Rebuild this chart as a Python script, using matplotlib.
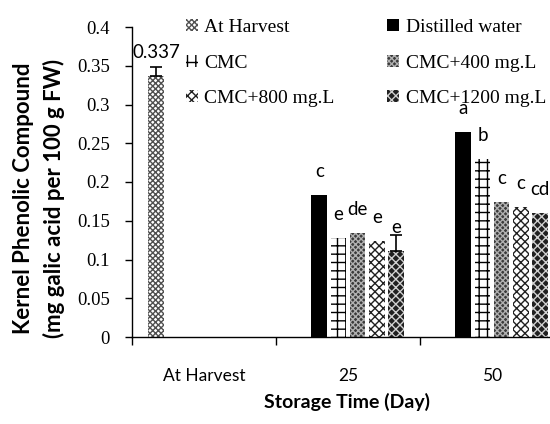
import matplotlib
matplotlib.use("Agg")
import matplotlib.pyplot as plt
import numpy as np

categories = ["At Harvest", "25", "50"]
series = ["At Harvest", "Distilled water", "CMC", "CMC+400 mg.L", "CMC+800 mg.L", "CMC+1200 mg.L"]
v_harvest = [0.337, None, None]
v_water = [None, 0.183, 0.265]
v_cmc = [None, 0.128, 0.230]
v_400 = [None, 0.134, 0.174]
v_800 = [None, 0.124, 0.168]
v_1200 = [None, 0.111, 0.160]
err_harvest = [0.011, 0, 0]
err_1200 = [0, 0.020, 0]
lab_harvest = ["0.337", "", ""]
lab_water = ["", "c", "a"]
lab_cmc = ["", "e", "b"]
lab_400 = ["", "de", "c"]
lab_800 = ["", "e", "c"]
lab_1200 = ["", "e", "cd"]
yticks = [0, 0.05, 0.1, 0.15, 0.2, 0.25, 0.3, 0.35, 0.4]

values = [v_harvest, v_water, v_cmc, v_400, v_800, v_1200]
errs = [err_harvest, None, None, None, None, err_1200]
labels = [lab_harvest, lab_water, lab_cmc, lab_400, lab_800, lab_1200]
# (face, hatch colour, hatch)
styles = [
    ("white", "#505050", "xxxxxx"),
    ("black", "black", None),
    ("white", "black", "++"),
    ("#3a3a3a", "#b0b0b0", "xxxxxx"),
    ("white", "#202020", "xxxx"),
    ("#202020", "#d0d0d0", "xxxx"),
]

W, H = 550, 424
fig = plt.figure(figsize=(W / 100, H / 100), dpi=100)
ax = fig.add_axes([132 / W, (H - 337) / H, 432 / W, 310 / H])

serif = "Liberation Serif"
sans = "Lato"

slot = 0.8 / 6
bw = 0.108
handles = {}
for i, (vals, er, labs, st) in enumerate(zip(values, errs, labels, styles)):
    face, hc, hatch = st
    for j, v in enumerate(vals):
        if v is None:
            continue
        x = j + 0.5 + (i - 2.5) * slot
        b = ax.bar(x, v, bw, facecolor=face, edgecolor=hc, hatch=hatch, linewidth=0)
        handles[i] = b
        if er is not None and er[j] > 0:
            ax.errorbar(x, v, yerr=[[0], [er[j]]], fmt="none", ecolor="black",
                        elinewidth=1.2, capsize=4, capthick=1.2)
        if labs[j]:
            ax.annotate(labs[j], (x, v), xytext=(0, 13), textcoords="offset points",
                        ha="center", va="baseline", fontsize=13.5, family=sans)

ax.set_xlim(0, 3)
ax.set_ylim(0, 0.4)
ax.set_yticks(yticks)
ax.set_yticklabels([f"{t:g}" for t in yticks], family=serif, fontsize=13.5)
ax.tick_params(axis="y", direction="out", length=5, width=1, pad=11)
ax.set_xticks([0, 1, 2, 3])
ax.set_xticklabels([])
ax.tick_params(axis="x", which="major", direction="out", length=6, width=1)
ax.set_xticks([0.5, 1.5, 2.5], minor=True)
ax.set_xticklabels(categories, minor=True, family=sans, fontsize=12.5)
ax.tick_params(axis="x", which="minor", length=0, pad=22)
for s in ["top", "right"]:
    ax.spines[s].set_visible(False)
for s in ["left", "bottom"]:
    ax.spines[s].set_linewidth(1)

fig.text(347 / W, 1 - 402 / H, "Storage Time (Day)", ha="center", va="center",
         family=sans, fontsize=14, fontweight="bold")
fig.text(39 / W, 1 - 198 / H, "Kernel Phenolic Compound\n(mg galic acid per 100 g FW)",
         ha="center", va="center", rotation=90, family=sans, fontsize=16,
         fontweight="bold", linespacing=1.45)

order = [0, 2, 4, 1, 3, 5]
leg = ax.legend([handles[k] for k in order], [series[k] for k in order], ncol=2,
                frameon=False, loc="upper left", bbox_to_anchor=(186 / W, 1 - 19 / H),
                bbox_transform=fig.transFigure, prop={"family": serif, "size": 14},
                handlelength=0.6, handleheight=0.6, handletextpad=0.35,
                columnspacing=2.7, labelspacing=0.95, borderaxespad=0, borderpad=0)

fig.savefig("out.png", dpi=100)
